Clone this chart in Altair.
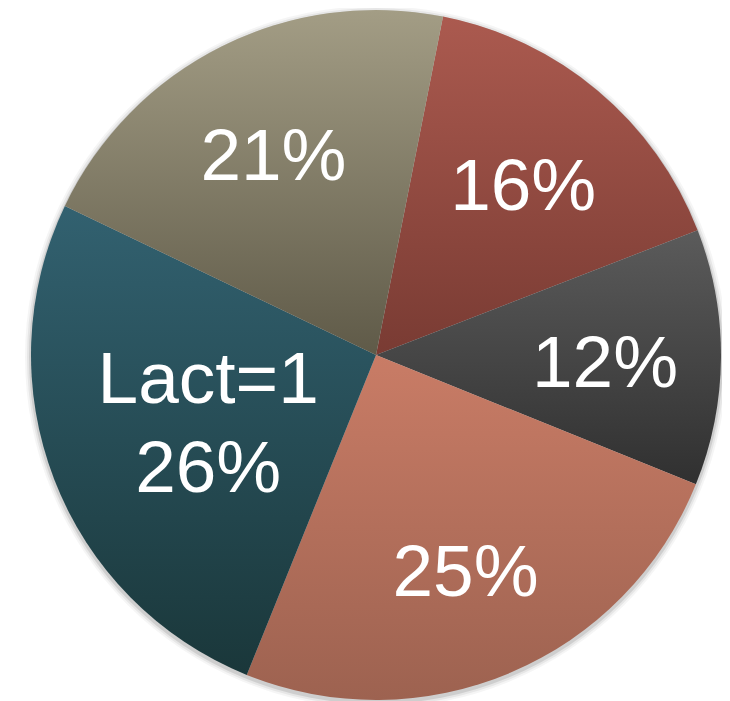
import math
import altair as alt
import pandas as pd

# Slices listed clockwise from the top
slices = ["s16", "s12", "s25", "lact1", "s21"]
shares = [16, 12, 25, 26, 21]
labels = ["16%", "12%", "25%", "Lact=1\n26%", "21%"]
top_colors = ["#ab5a4f", "#5b5b5b", "#c97c66", "#326170", "#a39d85"]
bottom_colors = ["#793b33", "#303030", "#9d6250", "#1a373a", "#5f5a48"]

df = pd.DataFrame({"slice": slices, "share": shares, "label": labels, "order": list(range(len(slices)))})

CX, CY, R = 368, 347, 345
A0 = math.radians(11.2)
theta_scale = alt.Scale(domain=[0, 100], range=[A0, A0 + 2 * math.pi])


def grad(i):
    return {
        "gradient": "linear", "x1": 0, "y1": 0, "x2": 0, "y2": 1,
        "stops": [{"offset": 0, "color": top_colors[i]}, {"offset": 1, "color": bottom_colors[i]}],
    }


conds = [{"test": f"datum.slice === '{s}'", "value": grad(i)} for i, s in enumerate(slices[:-1])]
fill_def = alt.FillValue(value=grad(len(slices) - 1), condition=conds)

base = alt.Chart(df).transform_window(
    cum="sum(share)", sort=[{"field": "order"}], frame=[None, 0]
).transform_calculate(start="datum.cum - datum.share", mid="datum.cum - datum.share / 2")

one = pd.DataFrame({"k": [0]})
shadows = [
    alt.Chart(one).mark_arc(theta=0, theta2=2 * math.pi, outerRadius=R + d, color="#000", opacity=op)
    .encode(x=alt.value(CX), y=alt.value(CY + 2))
    for d, op in [(6, 0.04), (4, 0.06), (2, 0.1)]
]

arcs = base.mark_arc(outerRadius=R).encode(
    theta=alt.Theta("start:Q", scale=theta_scale, stack=None),
    theta2="cum:Q",
    x=alt.value(CX), y=alt.value(CY),
    fill=fill_def,
)

text_kw = dict(fontSize=73, color="white", font="Liberation Sans", align="center",
               baseline="middle", lineBreak="\n", lineHeight=89)
text_main = base.transform_filter("datum.slice !== 'lact1'").mark_text(radius=229, dy=8, **text_kw).encode(
    theta=alt.Theta("mid:Q", scale=theta_scale, stack=None),
    x=alt.value(CX), y=alt.value(CY),
    text="label:N",
)
text_lact = base.transform_filter("datum.slice === 'lact1'").mark_text(radius=180, dy=-39, **text_kw).encode(
    theta=alt.Theta("mid:Q", scale=theta_scale, stack=None),
    x=alt.value(CX), y=alt.value(CY),
    text="label:N",
)

chart = alt.layer(*shadows, arcs, text_main, text_lact).properties(
    width=714, height=693, padding=0, autosize="none"
).configure_view(stroke=None)

chart.save("out.html", embed_options={"renderer": "svg", "actions": False})
